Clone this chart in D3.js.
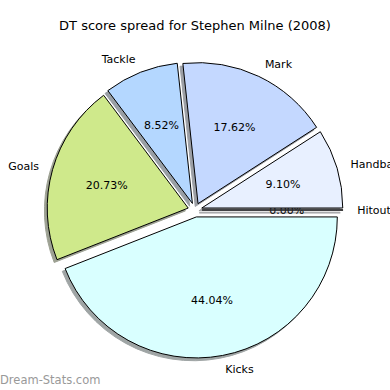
<!DOCTYPE html>
<html>
<head>
<meta charset="utf-8">
<script src="https://cdn.jsdelivr.net/npm/d3@7"></script>
<style>
  body { margin: 0; background: #fff; }
  svg { display: block; font-family: "DejaVu Sans", sans-serif; }
</style>
</head>
<body>
<svg id="chart"></svg>
<script>
const labels = ['Hitout', 'Handball', 'Mark', 'Tackle', 'Goals', 'Kicks'];
const shares = [0.00, 9.10, 17.62, 8.52, 20.73, 44.04];
const colors = ['#e8f0ff', '#e8f0ff', '#c4d8ff', '#b4d7ff', '#cfe98b', '#d9ffff'];

const width = 390, height = 390;
const cx = 195, cy = 210, radius = 141;
const explode = 0.05;

const svg = d3.select('#chart').attr('width', width).attr('height', height);

svg.append('text').attr('x', cx).attr('y', 30)
  .attr('text-anchor', 'middle').attr('font-size', 13).attr('fill', '#000')
  .text('DT score spread for Stephen Milne (2008)');

// matplotlib style: start at 3 o'clock, counter clockwise
const pie = d3.pie().sort(null).value(d => d)
  .startAngle(Math.PI / 2).endAngle(Math.PI / 2 - 2 * Math.PI);
const arcs = pie(shares);
const arc = d3.arc().innerRadius(0).outerRadius(radius);

const mid = d => (d.startAngle + d.endAngle) / 2;
const dir = d => [Math.sin(mid(d)), -Math.cos(mid(d))];

// shadow colour = 0.3 * face colour, alpha 0.5
const shade = c => { const r = d3.rgb(c); return d3.rgb(r.r * 0.3, r.g * 0.3, r.b * 0.3).toString(); };

const g = svg.append('g').attr('transform', `translate(${cx},${cy})`);

const wedges = g.selectAll('g.wedge').data(arcs).enter().append('g')
  .attr('class', 'wedge')
  .attr('transform', d => { const [x, y] = dir(d); return `translate(${x * explode * radius},${y * explode * radius})`; });

wedges.append('path')
  .attr('d', arc)
  .attr('transform', 'translate(-2.8,2.8)')
  .attr('fill', (d, i) => shade(colors[i]))
  .attr('stroke', (d, i) => shade(colors[i]))
  .attr('stroke-width', 1)
  .attr('opacity', 0.5);

wedges.append('path')
  .attr('d', arc)
  .attr('fill', (d, i) => colors[i])
  .attr('stroke', '#000')
  .attr('stroke-width', 1)
  .attr('stroke-linejoin', 'round');

wedges.append('text')
  .attr('x', d => dir(d)[0] * radius * 0.6)
  .attr('y', d => dir(d)[1] * radius * 0.6)
  .attr('text-anchor', 'middle').attr('dy', '0.35em')
  .attr('font-size', 11).attr('fill', '#000')
  .text(d => d.data.toFixed(2) + '%');

wedges.append('text')
  .attr('x', d => dir(d)[0] * radius * 1.1)
  .attr('y', d => dir(d)[1] * radius * 1.1)
  .attr('text-anchor', d => dir(d)[0] > 0 ? 'start' : 'end').attr('dy', '0.35em')
  .attr('font-size', 11).attr('fill', '#000')
  .text((d, i) => labels[i]);

svg.append('text').attr('x', 0).attr('y', 384)
  .attr('font-size', 11.5).attr('fill', '#999999')
  .text('Dream-Stats.com');
</script>
</body>
</html>
